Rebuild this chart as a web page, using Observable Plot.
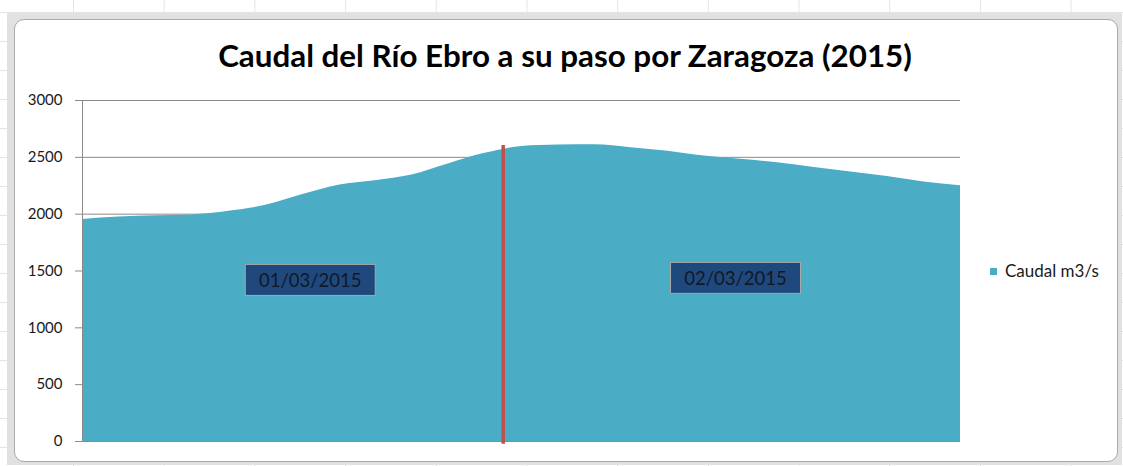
<!DOCTYPE html>
<html><head><meta charset="utf-8">
<script src="https://cdn.jsdelivr.net/npm/d3@7"></script>
<script src="https://cdn.jsdelivr.net/npm/@observablehq/plot@0.6"></script>
<style>
html,body{margin:0;padding:0;width:1123px;height:466px;overflow:hidden;background:#fff;font-family:Lato,"Open Sans",sans-serif;}
#sheet{position:absolute;left:0;top:0;width:1123px;height:466px;
 background-image:linear-gradient(to right,#e4e4e4 1px,transparent 1px),linear-gradient(to bottom,#e4e4e4 1px,transparent 1px);
 background-size:90.7px 29px;background-position:73px 12px;}
#band{position:absolute;left:7px;top:13px;width:1115px;height:452px;background:#e1e1e1;}
#frame{position:absolute;left:14px;top:19px;width:1102px;height:441px;background:#fff;border:1px solid #a9a9a9;border-radius:10px;}
#title{position:absolute;left:0;width:1130px;top:40px;text-align:center;font-weight:bold;font-size:28px;line-height:1;color:#000;white-space:nowrap;}
#title span{display:inline-block;}
#chart{position:absolute;left:0;top:85px;}
#legend{position:absolute;left:990px;top:262px;font-size:17px;line-height:18px;color:#1a1a1a;white-space:nowrap;}
#legend i{display:inline-block;width:7px;height:7px;background:#4BACC6;margin-right:8px;vertical-align:2px;}
</style></head>
<body>
<div id="sheet"></div>
<div id="band"></div>
<div id="frame"></div>
<div id="title"><span>Caudal del Río Ebro a su paso por Zaragoza (2015)</span></div>
<div id="chart"></div>
<div id="legend"><i></i>Caudal m3/s</div>
<script>
// --- data ---
const hours  = [0,2,4,6,8,10,12,14,16,18,20,22,24,26,28,30,32,34,36,38,40,42,44,46,48];
const caudal = [1953,1975,1985,1993,2025,2078,2170,2255,2295,2345,2442,2535,2595,2608,2610,2585,2553,2511,2483,2452,2411,2371,2331,2284,2250];
const yTicks = [0,500,1000,1500,2000,2500,3000];
const dayBoundary = 23;          // hour where the red marker sits
const boundaryTop = 2605;
const boundaryBottom = -25;
const labelText  = ["01/03/2015","02/03/2015"];
const labelHour  = [12.45,35.7];
const labelValue = [1412,1430];

const data = hours.map((h,i)=>({h, v:caudal[i]}));
const labels = labelText.map((t,i)=>({t, h:labelHour[i], v:labelValue[i]}));

const plot = Plot.plot({
  width:1123, height:375,
  marginLeft:82, marginRight:163, marginTop:15, marginBottom:19,
  style:{background:"transparent", fontFamily:"Lato, 'Open Sans', sans-serif", fontSize:"15px", color:"#1a1a1a", overflow:"visible"},
  x:{domain:[0,48], axis:null},
  y:{domain:[0,3000], axis:null},
  marks:[
    Plot.ruleY(yTicks,{stroke:"#8a8a8a", strokeWidth:1}),
    Plot.areaY(data,{x:"h", y:"v", fill:"#4BACC6", curve:"monotone-x"}),
    Plot.axisY({ticks:yTicks, tickSize:7, tickPadding:13, stroke:"#8a8a8a", label:null, tickFormat:d=>String(d), fill:"#1a1a1a"}),
    Plot.ruleX([0],{stroke:"#8a8a8a", strokeWidth:1}),
    Plot.ruleX([dayBoundary],{y1:boundaryTop, y2:boundaryBottom, stroke:"#C0504D", strokeWidth:3.5}),
    Plot.text(labels,{x:"h", y:"v", text:"t", fill:"#111827", fontSize:18.5})
  ]
});
document.getElementById("chart").appendChild(plot);

// boxes behind the date labels
const labelSet = new Set(labelText);
d3.select(plot).selectAll('text').filter(function(){ return labelSet.has(this.textContent); }).each(function(){
  const b = this.getBBox();
  const cx = b.x + b.width/2, cy = b.y + b.height/2;
  const r = document.createElementNS("http://www.w3.org/2000/svg","rect");
  r.setAttribute("x", cx-65); r.setAttribute("y", cy-15.5);
  r.setAttribute("width",130); r.setAttribute("height",31);
  r.setAttribute("fill","#1F497D"); r.setAttribute("stroke","#a8a8a8"); r.setAttribute("stroke-width",1);
  const tr = this.getAttribute("transform"); if (tr) r.setAttribute("transform", tr);
  this.parentNode.insertBefore(r, this);
});

// fit the title to the reference width
const ts = document.querySelector("#title span");
const w = ts.getBoundingClientRect().width;
const fs = 28*694/w;
document.getElementById("title").style.fontSize = fs+"px";
</script>
</body></html>
